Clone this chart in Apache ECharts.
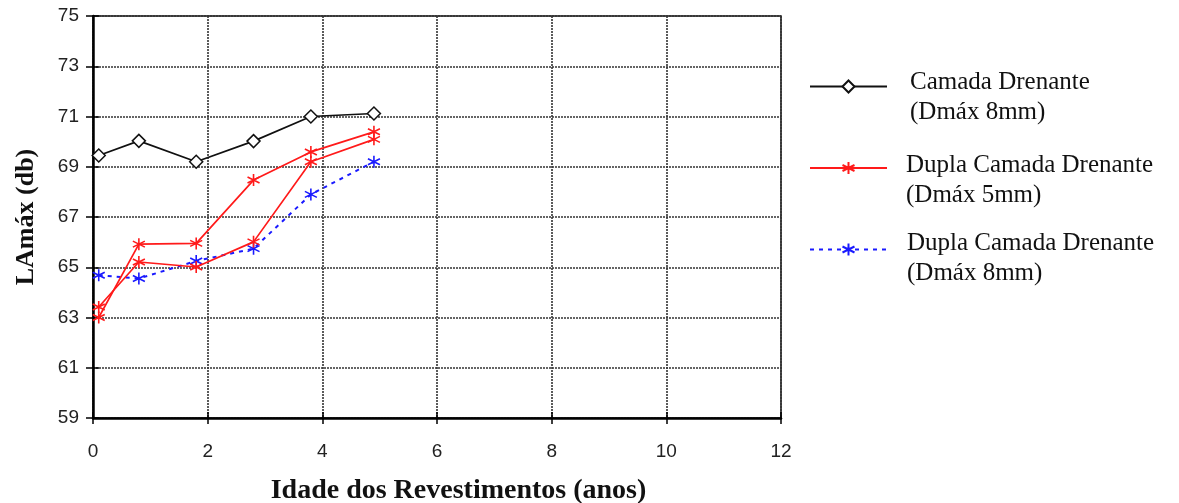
<!DOCTYPE html>
<html>
<head>
<meta charset="utf-8">
<script src="https://cdn.jsdelivr.net/npm/echarts@6/dist/echarts.min.js"></script>
<style>
  html, body { margin: 0; padding: 0; background: #fff; }
  #chart { width: 1179px; height: 503px; }
</style>
</head>
<body>
<div id="chart"></div>
<script>
// Pavement age (years) at each measurement
const idade = [0.1, 0.8, 1.8, 2.8, 3.8, 4.9];

// LAmáx (dB) per surface type
const camadaDrenante8 = [69.45, 70.03, 69.2, 70.02, 71.0, 71.12];
const duplaCamada5a = [63.0, 65.92, 65.95, 68.47, 69.59, 70.39];
const duplaCamada5b = [63.42, 65.21, 65.01, 66.01, 69.2, 70.09];
const duplaCamada8 = [64.68, 64.55, 65.25, 65.74, 67.9, 69.2];

const nomeCamada8 = 'Camada Drenante\n(Dmáx 8mm)';
const nomeDupla5 = 'Dupla Camada Drenante\n(Dmáx 5mm)';
const nomeDupla8 = 'Dupla Camada Drenante\n(Dmáx 8mm)';
const legendNames = [nomeCamada8, nomeDupla5, nomeDupla8];

const xTicks = { min: 0, max: 12, interval: 2 };
const yTicks = { min: 59, max: 75, interval: 2 };

const pairs = (ys) => idade.map((x, i) => [x, ys[i]]);

// six-armed asterisk marker
const asterisk = 'path://M0,-10L0,10M-8.66,-5L8.66,5M-8.66,5L8.66,-5';

const chart = echarts.init(document.getElementById('chart'), null, { renderer: 'canvas' });

const gridStyle = { color: '#333', width: 1.6, type: [2, 1] };
const serif = '"Liberation Serif", "Times New Roman", serif';
const sans = '"Liberation Sans", Arial, sans-serif';

// legend keys are drawn by the legend; their two-line captions sit beside them
const captionLefts = [910, 906, 907];
const captionTops = [67, 150, 228];
const legendCaptions = legendNames.map((name, i) => ({
  type: 'text',
  left: captionLefts[i],
  top: captionTops[i],
  silent: true,
  style: {
    text: name,
    font: '25px ' + serif,
    lineHeight: 30,
    fill: '#111'
  }
}));

chart.setOption({
  animation: false,
  backgroundColor: '#fff',
  grid: {
    left: 93, top: 16, width: 688, height: 402,
    outerBoundsMode: 'none',
    containLabel: false,
    show: true, borderColor: '#111', borderWidth: 1.5, backgroundColor: 'transparent'
  },
  legend: {
    orient: 'vertical',
    left: 809,
    top: 79,
    padding: 0,
    itemGap: 67,
    itemWidth: 77,
    itemHeight: 15,
    selectedMode: false,
    data: legendNames,
    formatter: () => '',
    textStyle: { fontSize: 1 }
  },
  graphic: legendCaptions,
  xAxis: [
    {
      type: 'value',
      min: xTicks.min, max: xTicks.max, interval: xTicks.interval,
      name: 'Idade dos Revestimentos (anos)',
      nameLocation: 'middle',
      nameGap: 59,
      nameTextStyle: {
        fontFamily: serif,
        fontWeight: 'bold',
        fontSize: 28,
        color: '#111',
        padding: [0, 0, 0, 43]
      },
      axisLine: { show: true, onZero: false, lineStyle: { color: '#000', width: 2.5 } },
      axisTick: { show: true, length: 6, lineStyle: { color: '#000', width: 1.5 } },
      axisLabel: {
        margin: 24,
        fontFamily: sans,
        fontSize: 19,
        color: '#222'
      },
      splitLine: { show: true, lineStyle: gridStyle }
    },
    {
      type: 'value',
      position: 'bottom',
      min: xTicks.min, max: xTicks.max, interval: xTicks.interval,
      axisLine: { show: false },
      axisTick: { show: true, inside: true, length: 6, lineStyle: { color: '#000', width: 1.5 } },
      axisLabel: { show: false },
      splitLine: { show: false }
    }
  ],
  yAxis: [
    {
      type: 'value',
      min: yTicks.min, max: yTicks.max, interval: yTicks.interval,
      name: 'LAmáx (db)',
      nameLocation: 'middle',
      nameGap: 54,
      nameTextStyle: {
        fontFamily: serif,
        fontWeight: 'bold',
        fontSize: 26,
        color: '#111'
      },
      axisLine: { show: true, onZero: false, lineStyle: { color: '#000', width: 2.5 } },
      axisTick: { show: true, length: 7, lineStyle: { color: '#000', width: 1.5 } },
      axisLabel: {
        margin: 14,
        fontFamily: sans,
        fontSize: 19,
        color: '#222'
      },
      splitLine: { show: true, lineStyle: gridStyle }
    },
    {
      type: 'value',
      position: 'left',
      min: yTicks.min, max: yTicks.max, interval: yTicks.interval,
      axisLine: { show: false },
      axisTick: { show: true, inside: true, length: 6, lineStyle: { color: '#000', width: 1.5 } },
      axisLabel: { show: false },
      splitLine: { show: false }
    }
  ],
  series: [
    {
      name: nomeCamada8,
      type: 'line',
      data: pairs(camadaDrenante8),
      symbol: 'diamond',
      symbolSize: 13,
      lineStyle: { color: '#111', width: 1.7 },
      itemStyle: { color: '#fff', borderColor: '#111', borderWidth: 1.5 },
      z: 5
    },
    {
      name: nomeDupla5,
      type: 'line',
      data: pairs(duplaCamada5a),
      symbol: asterisk,
      symbolSize: 12,
      lineStyle: { color: '#ff1a1a', width: 1.7 },
      itemStyle: { color: '#ff1a1a', borderColor: '#ff1a1a', borderWidth: 1.6 },
      z: 4
    },
    {
      name: nomeDupla5,
      type: 'line',
      data: pairs(duplaCamada5b),
      symbol: asterisk,
      symbolSize: 12,
      lineStyle: { color: '#ff1a1a', width: 1.7 },
      itemStyle: { color: '#ff1a1a', borderColor: '#ff1a1a', borderWidth: 1.6 },
      z: 4
    },
    {
      name: nomeDupla8,
      type: 'line',
      data: pairs(duplaCamada8),
      symbol: asterisk,
      symbolSize: 12,
      lineStyle: { color: '#1a1aff', width: 2, type: [4, 5] },
      itemStyle: { color: '#1a1aff', borderColor: '#1a1aff', borderWidth: 1.6 },
      z: 3
    }
  ]
});
</script>
</body>
</html>
